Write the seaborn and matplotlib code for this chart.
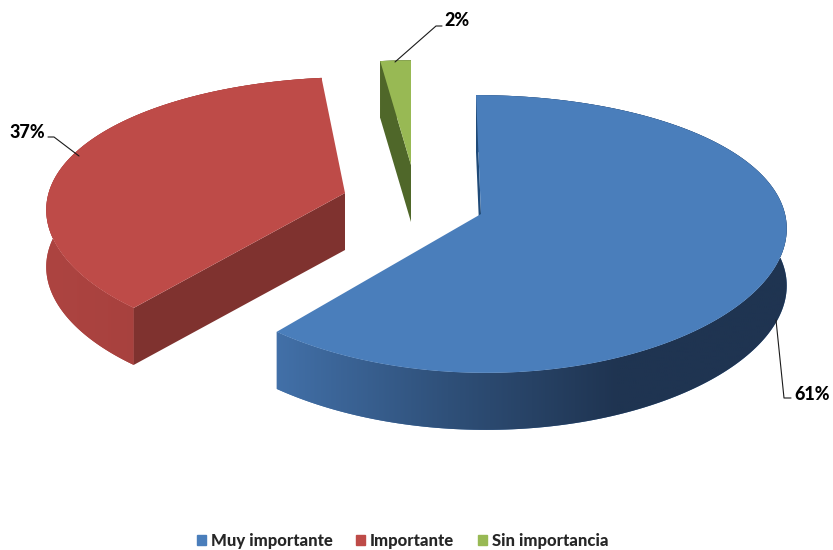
import numpy as np
import matplotlib
matplotlib.use("Agg")
import matplotlib.pyplot as plt
from matplotlib.patches import Patch
import seaborn as sns

categories = ["Muy importante", "Importante", "Sin importancia"]
values = [61, 37, 2]

# look of the 3d pie
top_colors = ["#4a7ebb", "#be4b48", "#98b954"]
side_colors = [["#4270a8", "#2f5079", "#1f3451", "#1f3451"],
               ["#ad4441", "#9c3b38"],
               ["#566f2c", "#566f2c"]]
cut_colors = ["#1f4a78", "#7f322f", "#4f6729"]
apex = [(481, 214), (345, 193), (411, 165)]
scale = [1.0, 0.975, 0.88]
skew = [-5, 11, 0]
label_pos = [(812, 395), (27, 133), (457, 21)]
leaders = [[(776, 320), (784, 398), (791, 398)],
           [(79, 156), (54, 137), (48, 137)],
           [(395, 62), (436, 26), (442, 26)]]

RX, RY = 304, 136
PERSP_X, PERSP_Y = 0.09, 0.144
DEPTH = 57

sns.set_theme(style="white")
plt.rcParams["font.family"] = ["Lato", "DejaVu Sans"]


def project(angles, i):
    u = np.sin(np.radians(angles))
    v = np.cos(np.radians(angles))
    x = apex[i][0] + scale[i] * (RX * u / (1 + PERSP_X * v) + skew[i] * v)
    y = apex[i][1] - scale[i] * RY * v / (1 + PERSP_Y * v)
    return x, y


fig = plt.figure(figsize=(8.33, 5.5), dpi=100)
ax = fig.add_axes([0, 0, 1, 1])
ax.set_xlim(0, 833)
ax.set_ylim(550, 0)
ax.axis("off")

ends = np.cumsum(values) / np.sum(values) * 360
starts = np.concatenate([[0], ends[:-1]])

for i, cat in enumerate(categories):
    ang = np.linspace(starts[i], ends[i], 200)
    x, y = project(ang, i)
    ax0, ay0 = apex[i]

    # outer wall with shading from left to right
    wall_x = np.concatenate([x, x[::-1]])
    wall_y = np.concatenate([y, y[::-1] + DEPTH])
    wall = ax.fill(wall_x, wall_y, color=side_colors[i][0], lw=0, zorder=2)[0]
    cmap = sns.blend_palette(side_colors[i], as_cmap=True)
    grad = np.linspace(0, 1, 256).reshape(1, -1)
    im = ax.imshow(grad, cmap=cmap, aspect="auto", zorder=2.1,
                   extent=[wall_x.min(), wall_x.max(), wall_y.max(), wall_y.min()])
    im.set_clip_path(wall)
    ax.set_xlim(0, 833)
    ax.set_ylim(550, 0)

    # cut face on the start edge
    ax.fill([ax0, x[0], x[0], ax0], [ay0, y[0], y[0] + DEPTH, ay0 + DEPTH],
            color=cut_colors[i], lw=0, zorder=3)

    # top face
    ax.fill(np.r_[ax0, x], np.r_[ay0, y], color=top_colors[i], lw=0, zorder=4)

    lx, ly = zip(*leaders[i])
    ax.plot(lx, ly, color="#1a1a1a", lw=0.8, zorder=5)
    ax.text(label_pos[i][0], label_pos[i][1], f"{values[i]}%", ha="center", va="center",
            fontsize=13, fontweight="black", color="black")

handles = [Patch(color=c, label=n) for c, n in zip(top_colors, categories)]
ax.legend(handles=handles, loc="center", bbox_to_anchor=(402.5 / 833, 1 - 541 / 550),
          ncol=3, frameon=False, handlelength=0.55, handleheight=0.6, handletextpad=0.3,
          columnspacing=1.4, prop={"size": 12, "weight": "black"})

fig.savefig("out.png", dpi=100, facecolor="white")
